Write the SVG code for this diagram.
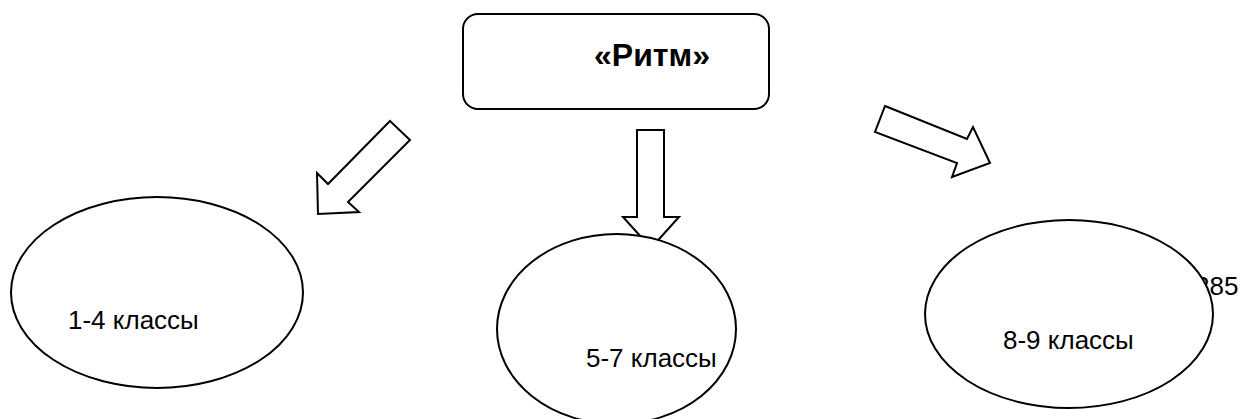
<svg xmlns="http://www.w3.org/2000/svg" width="1241" height="419" viewBox="0 0 1241 419">
<style>
.s{fill:#fff;stroke:#000;stroke-width:2}
.t{font-family:"Liberation Sans",Arial,sans-serif;font-size:26px;fill:#000}
.b{font-family:"Liberation Sans",Arial,sans-serif;font-size:32px;font-weight:bold;fill:#000}
</style>
<rect width="1241" height="419" fill="#fff"/>
<g id="connectors">
<polygon class="s" points="390,121 410,140 348,202 359,212 318,214 317,173 328,184"/>
<polygon class="s" points="637,130 664,130 664,217 679,217 651,248 623,217 637,217"/>
<polygon class="s" points="885,106 967,139 973,127 990,163 952,177 957,163 875,132"/>
</g>
<g id="root">
<rect class="s" x="463" y="14" width="306" height="95" rx="15"/>
<text class="b" x="652" y="66" text-anchor="middle">«Ритм»</text>
</g>
<text class="t" x="1195" y="295">285</text>
<g id="n1">
<ellipse class="s" cx="157" cy="292.5" rx="146" ry="95.5"/>
<text class="t" x="68" y="329">1-4 классы</text>
</g>
<g id="n2">
<ellipse class="s" cx="616.5" cy="329" rx="119.5" ry="95"/>
<text class="t" x="586" y="367">5-7 классы</text>
</g>
<g id="n3">
<ellipse class="s" cx="1069" cy="314" rx="144" ry="94"/>
<text class="t" x="1003" y="349">8-9 классы</text>
</g>
</svg>
